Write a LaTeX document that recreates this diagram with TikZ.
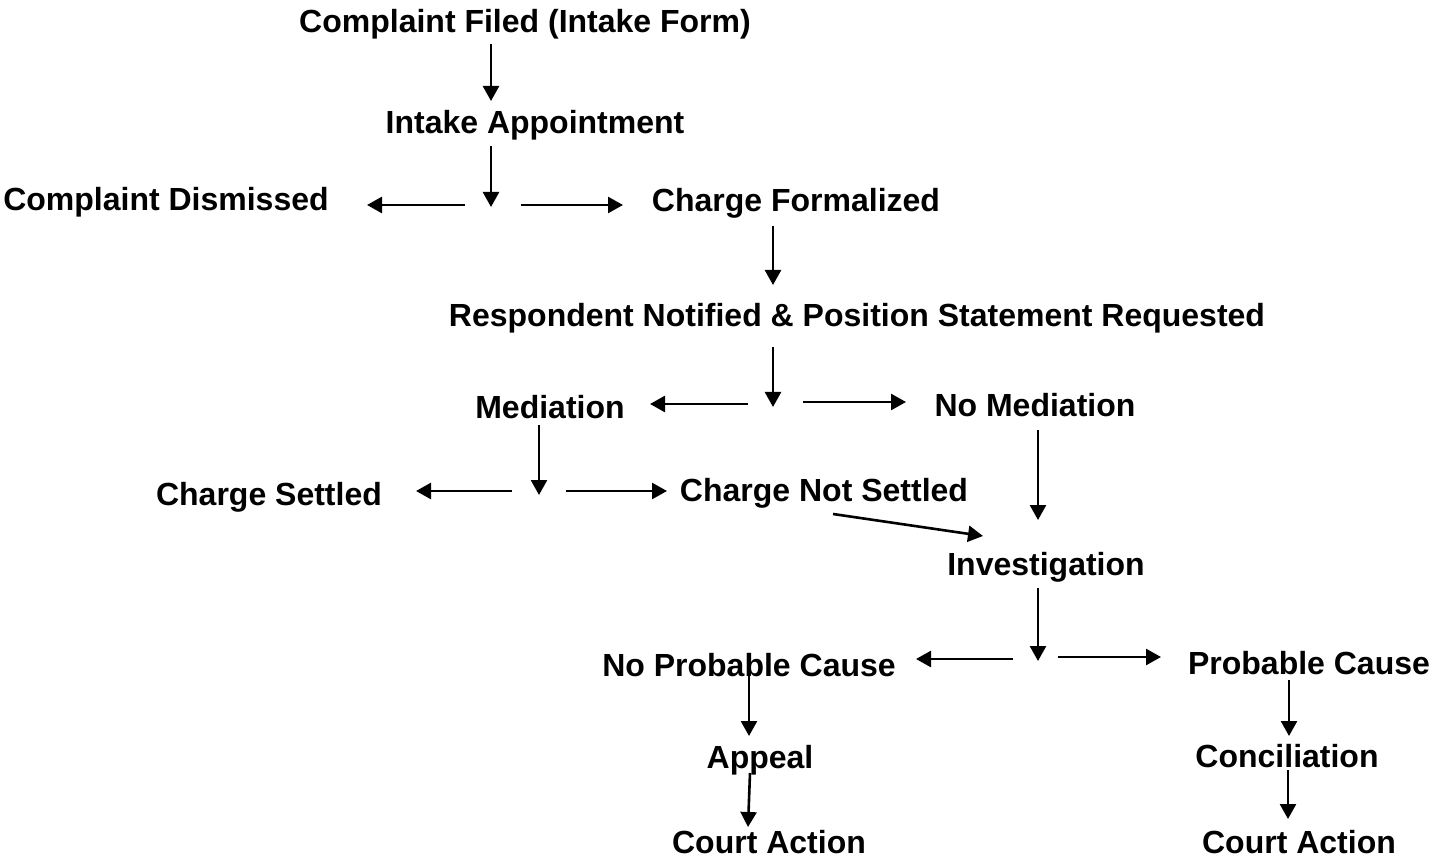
\documentclass[tikz,border=0pt]{standalone}
\usepackage{fontspec}
\setmainfont{Liberation Sans}
\usetikzlibrary{arrows.meta}
\begin{document}
\begin{tikzpicture}[x=1pt,y=-1pt,
  lbl/.style={font=\fontsize{32}{38}\selectfont\bfseries, inner sep=0pt, anchor=base},
  arr/.style={draw, line width=2.6pt, -{Triangle[length=15pt,width=16pt]}}]
\useasboundingbox (0,0) rectangle (1435,858);
% labels
\node[lbl] (filed) at (525,33) {Complaint Filed (Intake Form)};
\node[lbl] (intake) at (535,134) {Intake Appointment};
\node[lbl] (dismissed) at (166,211) {Complaint Dismissed};
\node[lbl] (formal) at (796,212) {Charge Formalized};
\node[lbl] (resp) at (857,327) {Respondent Notified \& Position Statement Requested};
\node[lbl] (med) at (550,418) {Mediation};
\node[lbl] (nomed) at (1035,417) {No Mediation};
\node[lbl] (settled) at (269,505) {Charge Settled};
\node[lbl] (notsettled) at (824,501) {Charge Not Settled};
\node[lbl] (invest) at (1046,575) {Investigation};
\node[lbl] (nopc) at (749,676) {No Probable Cause};
\node[lbl] (pc) at (1309,674) {Probable Cause};
\node[lbl] (appeal) at (760,768) {Appeal};
\node[lbl] (concil) at (1287,767) {Conciliation};
\node[lbl] (court1) at (769,853) {Court Action};
\node[lbl] (court2) at (1299,853) {Court Action};
% arrow end points
\coordinate (a1s) at (491,44);   \coordinate (a1e) at (491,101);
\coordinate (a2s) at (491,146);  \coordinate (a2e) at (491,207);
\coordinate (a3s) at (465,205);  \coordinate (a3e) at (367,205);
\coordinate (a4s) at (521,205);  \coordinate (a4e) at (623,205);
\coordinate (a5s) at (773,226);  \coordinate (a5e) at (773,285);
\coordinate (a6s) at (773,347);  \coordinate (a6e) at (773,407);
\coordinate (a7s) at (748,404);  \coordinate (a7e) at (650,404);
\coordinate (a8s) at (803,402);  \coordinate (a8e) at (906,402);
\coordinate (a9s) at (539,425);  \coordinate (a9e) at (539,495);
\coordinate (a10s) at (512,491); \coordinate (a10e) at (416,491);
\coordinate (a11s) at (566,491); \coordinate (a11e) at (667,491);
\coordinate (a12s) at (833,514); \coordinate (a12e) at (983,536);
\coordinate (a13s) at (1038,430); \coordinate (a13e) at (1038,520);
\coordinate (a14s) at (1038,588); \coordinate (a14e) at (1038,661);
\coordinate (a15s) at (1013,659); \coordinate (a15e) at (916,659);
\coordinate (a16s) at (1058,657); \coordinate (a16e) at (1161,657);
\coordinate (a17s) at (749,672); \coordinate (a17e) at (749,736);
\coordinate (a18s) at (750,773); \coordinate (a18e) at (748,827);
\coordinate (a19s) at (1289,680); \coordinate (a19e) at (1289,736);
\coordinate (a20s) at (1288,770); \coordinate (a20e) at (1288,819);
\foreach \i in {1,...,20} \draw[arr] (a\i s) -- (a\i e);
\end{tikzpicture}
\end{document}
